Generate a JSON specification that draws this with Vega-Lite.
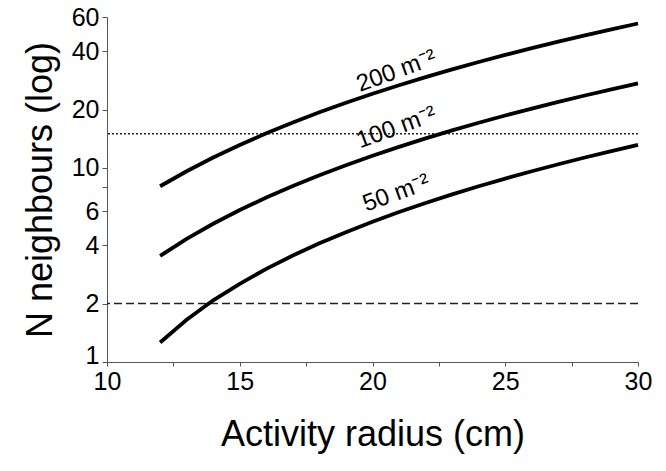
{
  "$schema": "https://vega.github.io/schema/vega-lite/v6.json",
  "width": 531,
  "height": 345,
  "autosize": "none",
  "padding": {"left": 107, "top": 17, "right": 28, "bottom": 109},
  "background": "white",
  "config": {
    "view": {"stroke": null},
    "font": "Liberation Sans",
    "axis": {"grid": false, "domainColor": "#555", "tickColor": "#555", "labelColor": "black", "titleColor": "black", "labelFont": "Liberation Sans", "titleFont": "Liberation Sans", "titleFontWeight": "normal", "labelFlush": false, "labelOverlap": false}
  },
  "datasets": {
    "curves": [
      {"r": 12, "n": 8.05, "d": "200"}, {"r": 13, "n": 9.62, "d": "200"}, {"r": 14, "n": 11.32, "d": "200"}, {"r": 15, "n": 13.14, "d": "200"}, {"r": 16, "n": 15.09, "d": "200"}, {"r": 17, "n": 17.16, "d": "200"}, {"r": 18, "n": 19.36, "d": "200"}, {"r": 19, "n": 21.68, "d": "200"}, {"r": 20, "n": 24.13, "d": "200"}, {"r": 21, "n": 26.71, "d": "200"}, {"r": 22, "n": 29.41, "d": "200"}, {"r": 23, "n": 32.24, "d": "200"}, {"r": 24, "n": 35.19, "d": "200"}, {"r": 25, "n": 38.27, "d": "200"}, {"r": 26, "n": 41.47, "d": "200"}, {"r": 27, "n": 44.8, "d": "200"}, {"r": 28, "n": 48.26, "d": "200"}, {"r": 29, "n": 51.84, "d": "200"}, {"r": 30, "n": 55.55, "d": "200"},
      {"r": 12, "n": 3.52, "d": "100"}, {"r": 13, "n": 4.31, "d": "100"}, {"r": 14, "n": 5.16, "d": "100"}, {"r": 15, "n": 6.07, "d": "100"}, {"r": 16, "n": 7.04, "d": "100"}, {"r": 17, "n": 8.08, "d": "100"}, {"r": 18, "n": 9.18, "d": "100"}, {"r": 19, "n": 10.34, "d": "100"}, {"r": 20, "n": 11.57, "d": "100"}, {"r": 21, "n": 12.85, "d": "100"}, {"r": 22, "n": 14.21, "d": "100"}, {"r": 23, "n": 15.62, "d": "100"}, {"r": 24, "n": 17.1, "d": "100"}, {"r": 25, "n": 18.64, "d": "100"}, {"r": 26, "n": 20.24, "d": "100"}, {"r": 27, "n": 21.9, "d": "100"}, {"r": 28, "n": 23.63, "d": "100"}, {"r": 29, "n": 25.42, "d": "100"}, {"r": 30, "n": 27.27, "d": "100"},
      {"r": 12, "n": 1.26, "d": "50"}, {"r": 13, "n": 1.65, "d": "50"}, {"r": 14, "n": 2.08, "d": "50"}, {"r": 15, "n": 2.53, "d": "50"}, {"r": 16, "n": 3.02, "d": "50"}, {"r": 17, "n": 3.54, "d": "50"}, {"r": 18, "n": 4.09, "d": "50"}, {"r": 19, "n": 4.67, "d": "50"}, {"r": 20, "n": 5.28, "d": "50"}, {"r": 21, "n": 5.93, "d": "50"}, {"r": 22, "n": 6.6, "d": "50"}, {"r": 23, "n": 7.31, "d": "50"}, {"r": 24, "n": 8.05, "d": "50"}, {"r": 25, "n": 8.82, "d": "50"}, {"r": 26, "n": 9.62, "d": "50"}, {"r": 27, "n": 10.45, "d": "50"}, {"r": 28, "n": 11.32, "d": "50"}, {"r": 29, "n": 12.21, "d": "50"}, {"r": 30, "n": 13.14, "d": "50"}
    ],
    "labels": [
      {"r": 20.9, "n": 31.5, "t": "200 m⁻²"},
      {"r": 20.9, "n": 16.1, "t": "100 m⁻²"},
      {"r": 20.9, "n": 7.4, "t": "50 m⁻²"}
    ],
    "refs": [
      {"y": 15, "kind": "dotted"},
      {"y": 2, "kind": "dashed"}
    ]
  },
  "layer": [
    {
      "data": {"name": "refs"},
      "transform": [{"filter": "datum.kind == 'dotted'"}],
      "mark": {"type": "rule", "color": "#222", "strokeWidth": 1.5, "strokeDash": [2, 2]},
      "encoding": {
        "y": {"field": "y", "type": "quantitative", "scale": {"type": "log", "domain": [1, 60], "nice": false}}
      }
    },
    {
      "data": {"name": "refs"},
      "transform": [{"filter": "datum.kind == 'dashed'"}],
      "mark": {"type": "rule", "color": "#222", "strokeWidth": 1.5, "strokeDash": [8, 4]},
      "encoding": {
        "y": {"field": "y", "type": "quantitative", "scale": {"type": "log", "domain": [1, 60], "nice": false}}
      }
    },
    {
      "data": {"name": "curves"},
      "mark": {"type": "line", "color": "black", "strokeWidth": 3.8},
      "encoding": {
        "x": {"field": "r", "type": "quantitative", "scale": {"domain": [10, 30], "nice": false, "zero": false},
          "axis": {"title": "Activity radius (cm)", "values": [10, 12.5, 15, 17.5, 20, 22.5, 25, 27.5, 30], "labelExpr": "datum.value % 5 == 0 ? datum.label : ''", "labelFontSize": 25, "titleFontSize": 36, "titlePadding": 23, "tickSize": 4, "labelPadding": 3}},
        "y": {"field": "n", "type": "quantitative", "scale": {"type": "log", "domain": [1, 60], "nice": false},
          "axis": {"title": "N neighbours (log)", "values": [1, 2, 4, 6, 8, 10, 20, 40, 60], "labelExpr": "datum.value == 8 ? '' : datum.label", "labelFontSize": 25, "titleFontSize": 36, "titlePadding": 12, "tickSize": 5, "labelPadding": 3, "labelOffset": {"condition": {"test": "datum.value == 1", "value": -7}, "value": 0}}},
        "detail": {"field": "d"}
      }
    },
    {
      "data": {"name": "labels"},
      "mark": {"type": "text", "fontSize": 24, "angle": -20, "font": "Liberation Sans", "color": "black"},
      "encoding": {
        "x": {"field": "r", "type": "quantitative"},
        "y": {"field": "n", "type": "quantitative"},
        "text": {"field": "t"}
      }
    }
  ]
}
